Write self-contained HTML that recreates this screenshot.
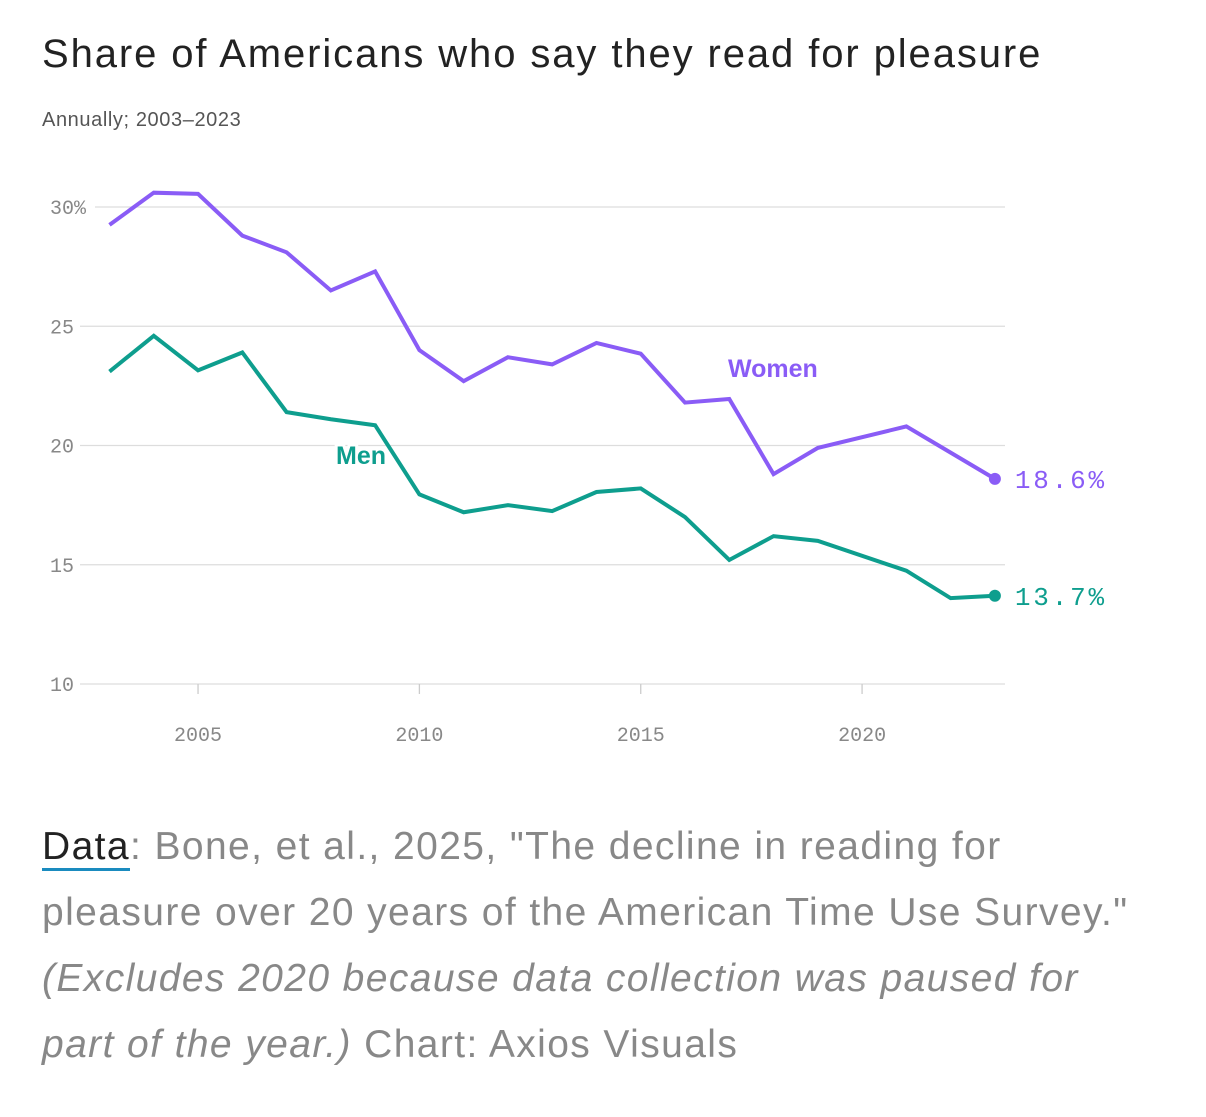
<!DOCTYPE html>
<html><head><meta charset="utf-8"><style>
body{margin:0;background:#fff;width:1206px;height:1117px;overflow:hidden;font-family:"Liberation Sans",sans-serif}
#title{position:absolute;left:42px;top:32px;font-size:40px;color:#222;letter-spacing:1.9px;white-space:nowrap}
#sub{position:absolute;left:42px;top:109px;font-size:20px;color:#555;letter-spacing:0.6px}
#foot{position:absolute;left:42px;top:814px;font-size:39px;line-height:66px;color:#888;font-weight:300;white-space:nowrap;letter-spacing:1.4px}
#foot .d{color:#222;border-bottom:3px solid #1a8bbf}
svg{position:absolute;left:0;top:0}
</style></head><body>
<div id="title">Share of Americans who say they read for pleasure</div>
<div id="sub">Annually; 2003–2023</div>
<svg id="chart" width="1206" height="800"></svg>
<div id="foot"><span class="d">Data</span>: Bone, et al., 2025, "The decline in reading for<br>pleasure over 20 years of the American Time Use Survey."<br><i>(Excludes 2020 because data collection was paused for<br>part of the year.)</i> Chart: Axios Visuals</div>
<script>
const years=[2003,2004,2005,2006,2007,2008,2009,2010,2011,2012,2013,2014,2015,2016,2017,2018,2019,2021,2022,2023];
const women=[29.25,30.6,30.55,28.8,28.1,26.5,27.3,24.0,22.7,23.7,23.4,24.3,23.85,21.8,21.95,18.8,19.9,20.8,19.7,18.6];
const men=[23.1,24.6,23.15,23.9,21.4,21.1,20.85,17.95,17.2,17.5,17.25,18.05,18.2,17.0,15.2,16.2,16.0,14.75,13.6,13.7];
const yTicks=[10,15,20,25,30];
const xTicks=[2005,2010,2015,2020];
const NS='http://www.w3.org/2000/svg';
const svg=document.getElementById('chart');
const x=v=>109.5+(v-2003)*44.27;
const y=v=>684-(v-10)*23.85;
function mk(t,a,txt){const e=document.createElementNS(NS,t);for(const k in a)e.setAttribute(k,a[k]);if(txt!==undefined)e.textContent=txt;svg.appendChild(e);return e;}
yTicks.forEach(t=>{
 const l=mk('line',{x1:t===30?95:80,x2:1005,y1:y(t),y2:y(t),stroke:'#ddd','stroke-width':1.3});
 
 
 const tx=mk('text',{x:50,y:y(t)+7,'font-family':'Liberation Mono, monospace','font-size':20,fill:'#888'},t===30?'30%':String(t));
 
 
});
xTicks.forEach(t=>{
 const l=mk('line',{x1:x(t),x2:x(t),y1:684,y2:694,stroke:'#ccc','stroke-width':1.3});
 
 
 const tx=mk('text',{x:x(t),y:741,'text-anchor':'middle','font-family':'Liberation Mono, monospace','font-size':20,fill:'#888'},String(t));
 
 
});
function series(vals,color,name){
 const p=mk('polyline',{points:years.map((yr,i)=>x(yr)+','+y(vals[i])).join(' '),fill:'none',stroke:color,'stroke-width':4,'stroke-linejoin':'miter'});
 
 
 const n=vals.length-1;
 const c=mk('circle',{cx:x(years[n]),cy:y(vals[n]),r:6,fill:color});
 
 
 const t=mk('text',{x:x(years[n])+20,y:y(vals[n])+9,'font-family':'Liberation Mono, monospace','font-size':26,'letter-spacing':2.8,fill:color},vals[n].toFixed(1)+'%');
 
 
}
series(women,'#8a5cf6','women');
series(men,'#0e9e8e','men');
const wl=mk('text',{x:728,y:377,'font-size':25,'font-weight':'bold',fill:'#8a5cf6'},'Women');


const ml=mk('text',{x:336,y:464,'font-size':25,'font-weight':'bold',fill:'#0e9e8e',stroke:'#fff','stroke-width':6,'paint-order':'stroke'},'Men');


</script>
</body></html>
